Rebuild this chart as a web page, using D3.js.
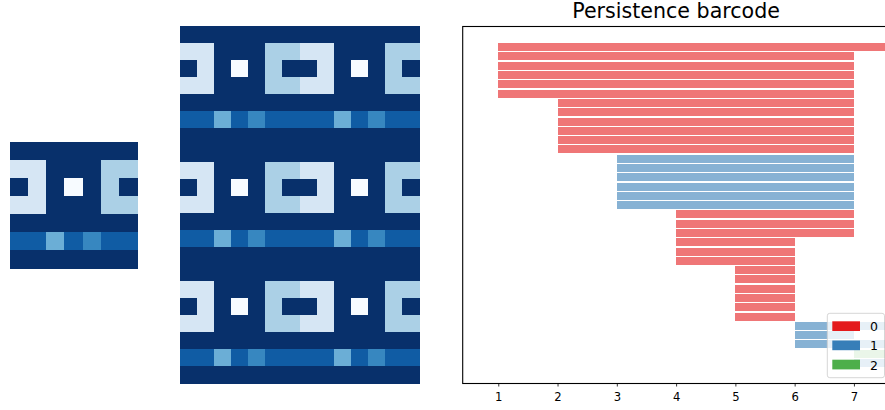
<!DOCTYPE html>
<html>
<head>
<meta charset="utf-8">
<script src="https://cdn.jsdelivr.net/npm/d3@7"></script>
<style>
  body { margin: 0; background: #fff; }
  svg { display: block; }
  text { font-family: "DejaVu Sans", sans-serif; fill: #000; }
</style>
</head>
<body>
<svg id="fig" width="885" height="410"></svg>
<script>
// One period of the grey-level pattern (7 x 7 cells)
const pattern = [
  [7, 7, 7, 7, 7, 7, 7],
  [2, 2, 7, 7, 7, 3, 3],
  [7, 2, 7, 1, 7, 3, 7],
  [2, 2, 7, 7, 7, 3, 3],
  [7, 7, 7, 7, 7, 7, 7],
  [6, 6, 4, 6, 5, 6, 6],
  [7, 7, 7, 7, 7, 7, 7]
];
// The periodic version is the pattern repeated 2 times across, 3 times down
const tilesX = 2;
const tilesY = 3;

// Persistence intervals, one entry per bar (Infinity = never dies)
const barDims   = [0, 0, 0, 0, 0, 0,  0, 0, 0, 0, 0, 0,  1, 1, 1, 1, 1, 1,  0, 0, 0, 0, 0, 0,  0, 0, 0, 0, 0, 0,  1, 1, 1, 2, 1];
const barBirths = [1, 1, 1, 1, 1, 1,  2, 2, 2, 2, 2, 2,  3, 3, 3, 3, 3, 3,  4, 4, 4, 4, 4, 4,  5, 5, 5, 5, 5, 5,  6, 6, 6, 7, 7];
const barDeaths = [Infinity, 7, 7, 7, 7, 7,  7, 7, 7, 7, 7, 7,  7, 7, 7, 7, 7, 7,  7, 7, 7, 6, 6, 6,  6, 6, 6, 6, 6, 6,  Infinity, 7, Infinity, Infinity, Infinity];

const dimLabels = ["0", "1", "2"];
const xTicks = [1, 2, 3, 4, 5, 6, 7];
const chartTitle = "Persistence barcode";

// ---------------------------------------------------------------
const svg = d3.select("#fig");

// matplotlib "Blues" anchor colours, interpolated linearly
const bluesAnchors = ["#f7fbff", "#deebf7", "#c6dbef", "#9ecae1", "#6baed6",
                      "#4292c6", "#2171b5", "#08519c", "#08306b"];
const flat = pattern.flat();
const vmin = d3.min(flat), vmax = d3.max(flat);
const color = d3.scaleLinear()
  .domain(bluesAnchors.map((_, i) => vmin + i * (vmax - vmin) / (bluesAnchors.length - 1)))
  .range(bluesAnchors)
  .interpolate(d3.interpolateRgb);

function drawImage(grid, x0, y0, w, h) {
  const rows = grid.length, cols = grid[0].length;
  const xs = d3.scaleBand().domain(d3.range(cols)).range([x0, x0 + w]);
  const ys = d3.scaleBand().domain(d3.range(rows)).range([y0, y0 + h]);
  const cells = [];
  grid.forEach((row, r) => row.forEach((v, c) => cells.push({ r, c, v })));
  svg.append("g")
    .attr("shape-rendering", "crispEdges")
    .selectAll("rect")
    .data(cells)
    .join("rect")
    .attr("x", d => xs(d.c))
    .attr("y", d => ys(d.r))
    .attr("width", xs.bandwidth() + 0.5)
    .attr("height", ys.bandwidth() + 0.5)
    .attr("fill", d => color(d.v));
}

// Tiled grid built from the single period
const tiled = d3.range(pattern.length * tilesY).map(r =>
  d3.range(pattern[0].length * tilesX).map(c =>
    pattern[r % pattern.length][c % pattern[0].length]));

drawImage(pattern, 10, 141.5, 127, 127);
drawImage(tiled, 180, 26, 239, 357);

// ---------------------------------------------------------------
// Barcode panel
const ax = { left: 462.7, top: 26, right: 889.5, bottom: 383 };
const finite = barDeaths.filter(Number.isFinite);
const minBirth = d3.min(barBirths), maxDeath = d3.max(finite);
const delta = (maxDeath - minBirth) * 0.1;
const xMin = minBirth - delta, xMax = maxDeath + delta;

const x = d3.scaleLinear().domain([xMin, xMax]).range([ax.left, ax.right]);
const n = barBirths.length;
const y = d3.scaleLinear().domain([-2.28, n - 1 + 2.15]).range([ax.top, ax.bottom]);
const step = y(1) - y(0);
const barH = step * 0.86;

const set1 = ["#e41a1c", "#377eb8", "#4daf4a"];

svg.append("defs").append("clipPath").attr("id", "axclip")
  .append("rect")
  .attr("x", ax.left).attr("y", ax.top)
  .attr("width", ax.right - ax.left).attr("height", ax.bottom - ax.top);

const bars = d3.range(n).map(i => ({
  i, dim: barDims[i], birth: barBirths[i],
  death: Number.isFinite(barDeaths[i]) ? barDeaths[i] : xMax
}));

svg.append("g")
  .attr("clip-path", "url(#axclip)")
  .attr("shape-rendering", "crispEdges")
  .selectAll("rect")
  .data(bars)
  .join("rect")
  .attr("x", d => x(d.birth))
  .attr("y", d => Math.round(y(d.i) - barH / 2))
  .attr("width", d => x(d.death) - x(d.birth))
  .attr("height", Math.round(barH))
  .attr("fill", d => set1[d.dim])
  .attr("fill-opacity", 0.6);

// Axes frame
svg.append("rect")
  .attr("x", ax.left).attr("y", ax.top + 0.5)
  .attr("width", ax.right - ax.left).attr("height", ax.bottom - ax.top)
  .attr("fill", "none")
  .attr("stroke", "#000")
  .attr("stroke-width", 1.1);

// x axis
const xAxis = d3.axisBottom(x)
  .tickValues(xTicks)
  .tickFormat(d3.format("d"))
  .tickSize(3.5)
  .tickPadding(6.5);
const gx = svg.append("g")
  .attr("transform", `translate(0,${ax.bottom})`)
  .call(xAxis);
gx.select(".domain").remove();
gx.selectAll(".tick line").attr("stroke", "#000").attr("stroke-width", 0.8);
gx.selectAll(".tick text")
  .attr("font-family", "DejaVu Sans, sans-serif")
  .attr("font-size", 11.6)
  .attr("fill", "#000");

// Title
svg.append("text")
  .attr("x", (ax.left + ax.right) / 2)
  .attr("y", 18)
  .attr("text-anchor", "middle")
  .attr("font-size", 20.6)
  .text(chartTitle);

// Legend (lower right, semi-transparent frame)
const lg = { x: 827.3, y: 313.3, w: 57.2, h: 64.4 };
const legend = svg.append("g");
legend.append("rect")
  .attr("x", lg.x).attr("y", lg.y)
  .attr("width", lg.w).attr("height", lg.h)
  .attr("rx", 2.5)
  .attr("fill", "#fff").attr("fill-opacity", 0.8)
  .attr("stroke", "#ccc").attr("stroke-opacity", 0.8)
  .attr("stroke-width", 1);
const rowStep = 19.2;
const items = legend.selectAll("g.item")
  .data(dimLabels)
  .join("g")
  .attr("class", "item")
  .attr("transform", (d, i) => `translate(${lg.x + 5},${lg.y + 8 + i * rowStep})`);
items.append("rect")
  .attr("width", 27.7).attr("height", 9.7)
  .attr("fill", (d, i) => set1[i]);
items.append("text")
  .attr("x", 37.7)
  .attr("y", 9.8)
  .attr("font-size", 12.5)
  .text(d => d);
</script>
</body>
</html>
